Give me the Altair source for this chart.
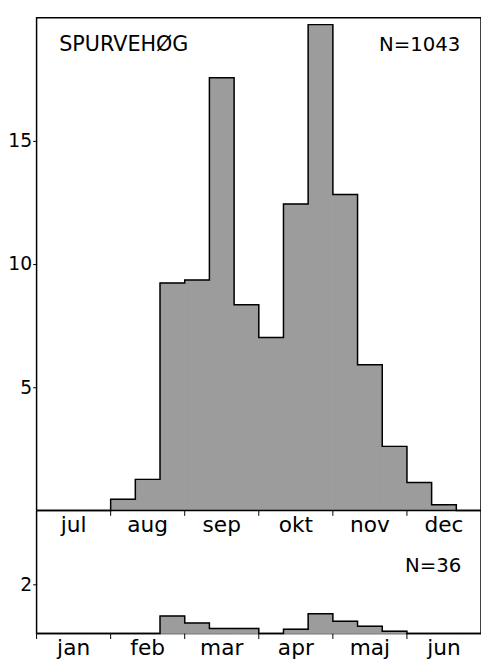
import altair as alt
import pandas as pd

# ---- data (10-day periods, three per month) ----
top_months = ["jul", "aug", "sep", "okt", "nov", "dec"]
bottom_months = ["jan", "feb", "mar", "apr", "maj", "jun"]
top_values = [0, 0, 0, 0.45, 1.26, 9.23, 9.35, 17.56, 8.35,
              7.02, 12.44, 19.72, 12.82, 5.91, 2.6, 1.13, 0.23, 0]
bottom_values = [0, 0, 0, 0, 0, 0.71, 0.43, 0.21, 0.21,
                 0, 0.18, 0.81, 0.5, 0.3, 0.1, 0, 0, 0]
top_ticks = [5, 10, 15]
bottom_ticks = [2]
title_text = "SPURVEHØG"
top_n_text = "N=1043"
bottom_n_text = "N=36"

# ---- layout constants ----
BOTTOM_BASE = -5   # bottom panel baseline in shared y units
PER_MONTH = 3
N_BINS = 18
FILL = "#9c9c9c"
FONT = "DejaVu Sans"

panels = [("top", 0, top_values, top_months), ("bottom", BOTTOM_BASE, bottom_values, bottom_months)]

bar_rows, line_rows, label_rows, tick_rows = [], [], [], []
for name, base, vals, months in panels:
    for i, v in enumerate(vals):
        bar_rows.append({"panel": name, "i": i, "i2": i + 1, "base": base, "top": base + v})
    for i in range(N_BINS + 1):
        v = vals[min(i, N_BINS - 1)]
        line_rows.append({"panel": name, "i": i, "y": base + v})
    for k, m in enumerate(months):
        label_rows.append({"panel": name, "month": m, "pos": PER_MONTH * k + PER_MONTH / 2, "base": base})
    start = 1 if name == "top" else 0
    for k in range(start, 6):
        tick_rows.append({"panel": name, "pos": PER_MONTH * k, "base": base, "end": base - 0.22})

bars_df = pd.DataFrame(bar_rows)
line_df = pd.DataFrame(line_rows)
label_df = pd.DataFrame(label_rows)
tick_df = pd.DataFrame(tick_rows)

xs = alt.Scale(domain=[0, N_BINS], nice=False, zero=False)
ys = alt.Scale(domain=[BOTTOM_BASE, 20], nice=False, zero=False)

axis_values = top_ticks + [t + BOTTOM_BASE for t in bottom_ticks]
label_expr = "datum.value < 0 ? format(datum.value + %d, 'd') : datum.label" % (-BOTTOM_BASE)

y_axis = alt.Axis(
    values=axis_values, labelExpr=label_expr, title=None, grid=False, domain=False,
    tickSize=4, tickColor="black", tickWidth=1, labelFont=FONT, labelFontSize=19,
    labelColor="black", labelPadding=1)


def Y(field):
    return alt.Y(field, scale=ys, axis=y_axis, title=None)


def X(field):
    return alt.X(field, scale=xs, axis=None, title=None)


bars = alt.Chart(bars_df).mark_rect(fill=FILL, stroke=FILL, strokeWidth=0.8).encode(
    x=X("i:Q"), x2="i2", y=Y("base:Q"), y2="top",
)

outline = alt.Chart(line_df).mark_line(interpolate="step-after", color="black", strokeWidth=1.5).encode(
    x=X("i:Q"), y=Y("y:Q"), detail="panel:N", order="i:Q",
)

divider = alt.Chart(pd.DataFrame({"y": [0]})).mark_rule(color="black", strokeWidth=1.5).encode(
    y=Y("y:Q"),
)

ticks = alt.Chart(tick_df).mark_rule(color="black", strokeWidth=1).encode(
    x=X("pos:Q"), y=Y("base:Q"), y2="end",
)

month_labels = alt.Chart(label_df).mark_text(
    font=FONT, fontSize=22, color="black", baseline="alphabetic", align="center", dy=22
).encode(
    x=X("pos:Q"), y=Y("base:Q"), text="month:N",
)

title = alt.Chart(pd.DataFrame({"t": [title_text]})).mark_text(
    font=FONT, fontSize=21, color="black", align="left", baseline="alphabetic"
).encode(x=alt.value(23), y=alt.value(34), text="t:N")

top_n = alt.Chart(pd.DataFrame({"t": [top_n_text]})).mark_text(
    font=FONT, fontSize=20, color="black", align="right", baseline="alphabetic"
).encode(x=alt.value(430), y=alt.value(34), text="t:N")

bottom_n = alt.Chart(pd.DataFrame({"t": [bottom_n_text]})).mark_text(
    font=FONT, fontSize=20, color="black", align="right", baseline="alphabetic"
).encode(x=alt.value(431), y=alt.value(562), text="t:N")

chart = alt.layer(bars, outline, divider, ticks, month_labels, title, top_n, bottom_n).properties(
    width=451, height=625,
    autosize=alt.AutoSizeParams(type="none"),
    padding={"left": 29, "top": 5, "right": 0, "bottom": 27},
    background="white",
).configure_view(stroke="black", strokeWidth=1.5)

chart.save("out.html", embed_options={"renderer": "svg", "actions": False})
